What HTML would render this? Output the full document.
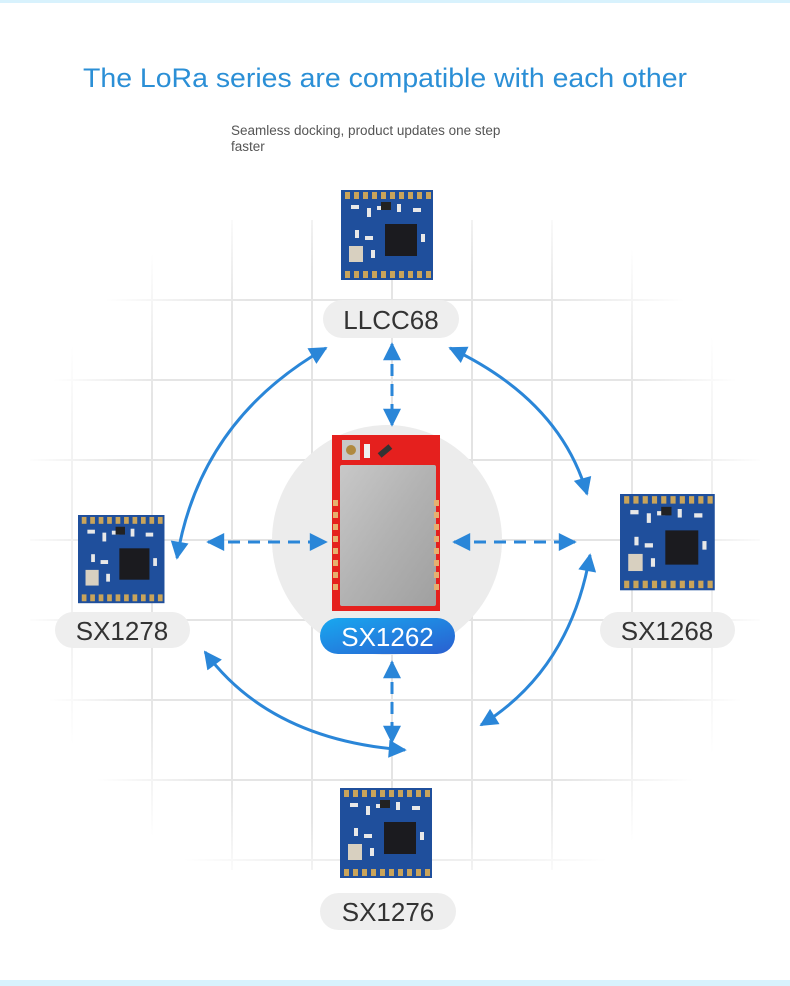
<!DOCTYPE html>
<html><head><meta charset="utf-8"><style>
html,body{margin:0;padding:0;background:#fff}
body{width:790px;height:986px;overflow:hidden;position:relative;font-family:"Liberation Sans",sans-serif}
</style></head><body>
<svg width="790" height="986" viewBox="0 0 790 986" xmlns="http://www.w3.org/2000/svg" style="position:absolute;left:0;top:0">
<defs>
<radialGradient id="fade" cx="395" cy="545" r="380" gradientUnits="userSpaceOnUse">
<stop offset="0" stop-color="#fff" stop-opacity="1"/><stop offset="0.75" stop-color="#fff" stop-opacity="0.9"/><stop offset="1" stop-color="#fff" stop-opacity="0"/>
</radialGradient>
<mask id="m"><rect width="790" height="986" fill="url(#fade)"/></mask>
<linearGradient id="pill" x1="0" y1="0" x2="1" y2="1"><stop offset="0" stop-color="#18a8f0"/><stop offset="1" stop-color="#2a5fd0"/></linearGradient>
<linearGradient id="can" x1="0" y1="0" x2="1" y2="1"><stop offset="0" stop-color="#c8c8c8"/><stop offset="0.5" stop-color="#b2b2b2"/><stop offset="1" stop-color="#a0a0a0"/></linearGradient>
<marker id="ah" viewBox="0 0 10 10" refX="9" refY="5" markerWidth="7" markerHeight="6" orient="auto-start-reverse" markerUnits="strokeWidth"><path d="M0,0 L10,5 L0,10 z" fill="#2a86d8"/></marker>
<g id="mod">
<rect x="0" y="0" width="92" height="90" fill="#1f4f9c"/>
<g fill="#c9a45a">
<rect x="4" y="2" width="5" height="7"/><rect x="13" y="2" width="5" height="7"/><rect x="22" y="2" width="5" height="7"/><rect x="31" y="2" width="5" height="7"/><rect x="40" y="2" width="5" height="7"/><rect x="49" y="2" width="5" height="7"/><rect x="58" y="2" width="5" height="7"/><rect x="67" y="2" width="5" height="7"/><rect x="76" y="2" width="5" height="7"/><rect x="85" y="2" width="5" height="7"/>
<rect x="4" y="81" width="5" height="7"/><rect x="13" y="81" width="5" height="7"/><rect x="22" y="81" width="5" height="7"/><rect x="31" y="81" width="5" height="7"/><rect x="40" y="81" width="5" height="7"/><rect x="49" y="81" width="5" height="7"/><rect x="58" y="81" width="5" height="7"/><rect x="67" y="81" width="5" height="7"/><rect x="76" y="81" width="5" height="7"/><rect x="85" y="81" width="5" height="7"/>
</g>
<rect x="44" y="34" width="32" height="32" fill="#1b1b1f"/>
<g fill="#e8e8e8"><rect x="10" y="15" width="8" height="4"/><rect x="26" y="18" width="4" height="9"/><rect x="36" y="16" width="8" height="4"/><rect x="56" y="14" width="4" height="8"/><rect x="72" y="18" width="8" height="4"/><rect x="14" y="40" width="4" height="8"/><rect x="24" y="46" width="8" height="4"/><rect x="80" y="44" width="4" height="8"/><rect x="30" y="60" width="4" height="8"/></g>
<rect x="8" y="56" width="14" height="16" fill="#d8d0c0"/>
<rect x="40" y="12" width="10" height="8" fill="#222"/>
</g>
</defs>
<rect x="0" y="0" width="790" height="3" fill="#d8f2fd"/>
<rect x="0" y="980" width="790" height="6" fill="#d8f2fd"/>
<text x="385" y="87" text-anchor="middle" font-size="27" textLength="604" lengthAdjust="spacingAndGlyphs" fill="#2b8fd6" font-family="Liberation Sans,sans-serif">The LoRa series are compatible with each other</text>
<text x="231" y="135" font-size="13.5" fill="#555">Seamless docking, product updates one step</text>
<text x="231" y="151" font-size="13.5" fill="#555">faster</text>
<g mask="url(#m)" stroke="#e2e2e2" stroke-width="2">
<line x1="152" y1="220" x2="152" y2="870"/><line x1="232" y1="220" x2="232" y2="870"/><line x1="312" y1="220" x2="312" y2="870"/><line x1="392" y1="220" x2="392" y2="870"/><line x1="472" y1="220" x2="472" y2="870"/><line x1="552" y1="220" x2="552" y2="870"/><line x1="632" y1="220" x2="632" y2="870"/><line x1="712" y1="220" x2="712" y2="870"/><line x1="72" y1="220" x2="72" y2="870"/>
<line x1="30" y1="300" x2="760" y2="300"/><line x1="30" y1="380" x2="760" y2="380"/><line x1="30" y1="460" x2="760" y2="460"/><line x1="30" y1="540" x2="760" y2="540"/><line x1="30" y1="620" x2="760" y2="620"/><line x1="30" y1="700" x2="760" y2="700"/><line x1="30" y1="780" x2="760" y2="780"/><line x1="30" y1="860" x2="760" y2="860"/>
</g>
<circle cx="387" cy="540" r="115" fill="#ececec"/>
<rect x="332" y="435" width="108" height="176" fill="#e5201e"/>
<rect x="342" y="440" width="18" height="20" fill="#c8c8c8"/><circle cx="351" cy="450" r="5" fill="#b08a40"/>
<rect x="364" y="444" width="6" height="14" fill="#f0f0f0"/>
<rect x="378" y="448" width="14" height="6" fill="#333" transform="rotate(-40 385 451)"/>
<rect x="340" y="465" width="96" height="141" rx="2" fill="url(#can)"/>
<g fill="#e6b070"><rect x="333" y="500" width="5" height="6"/><rect x="333" y="512" width="5" height="6"/><rect x="333" y="524" width="5" height="6"/><rect x="333" y="536" width="5" height="6"/><rect x="333" y="548" width="5" height="6"/><rect x="333" y="560" width="5" height="6"/><rect x="333" y="572" width="5" height="6"/><rect x="333" y="584" width="5" height="6"/><rect x="434" y="500" width="5" height="6"/><rect x="434" y="512" width="5" height="6"/><rect x="434" y="524" width="5" height="6"/><rect x="434" y="536" width="5" height="6"/><rect x="434" y="548" width="5" height="6"/><rect x="434" y="560" width="5" height="6"/><rect x="434" y="572" width="5" height="6"/><rect x="434" y="584" width="5" height="6"/></g>
<rect x="320" y="618" width="135" height="36" rx="18" fill="url(#pill)"/>
<text x="387.5" y="646" text-anchor="middle" font-size="26" fill="#fff">SX1262</text>
<use href="#mod" x="341" y="190"/>
<use href="#mod" transform="translate(78,515) scale(0.94,0.98)"/>
<use href="#mod" transform="translate(620,494) scale(1.03,1.07)"/>
<use href="#mod" x="340" y="788"/>
<g fill="#eeeeee"><rect x="323" y="300" width="136" height="38" rx="19"/><rect x="55" y="612" width="135" height="36" rx="18"/><rect x="600" y="612" width="135" height="36" rx="18"/><rect x="320" y="893" width="136" height="37" rx="18.5"/></g>
<g font-size="26" fill="#333" text-anchor="middle"><text x="391" y="329">LLCC68</text><text x="122" y="640">SX1278</text><text x="667" y="640">SX1268</text><text x="388" y="921">SX1276</text></g>
<g stroke="#2a86d8" stroke-width="3" fill="none">
<line x1="392" y1="344" x2="392" y2="425" stroke-dasharray="12,8" marker-start="url(#ah)" marker-end="url(#ah)"/>
<line x1="392" y1="662" x2="392" y2="742" stroke-dasharray="12,8" marker-start="url(#ah)" marker-end="url(#ah)"/>
<line x1="208" y1="542" x2="326" y2="542" stroke-dasharray="12,8" marker-start="url(#ah)" marker-end="url(#ah)"/>
<line x1="454" y1="542" x2="575" y2="542" stroke-dasharray="12,8" marker-start="url(#ah)" marker-end="url(#ah)"/>
<path d="M326,348 Q200,420 177,558" marker-start="url(#ah)" marker-end="url(#ah)"/>
<path d="M450,348 Q560,400 587,494" marker-start="url(#ah)" marker-end="url(#ah)"/>
<path d="M590,555 Q570,670 481,725" marker-start="url(#ah)" marker-end="url(#ah)"/>
<path d="M205,652 Q270,740 405,750" marker-start="url(#ah)" marker-end="url(#ah)"/>
</g>
</svg>
</body></html>
